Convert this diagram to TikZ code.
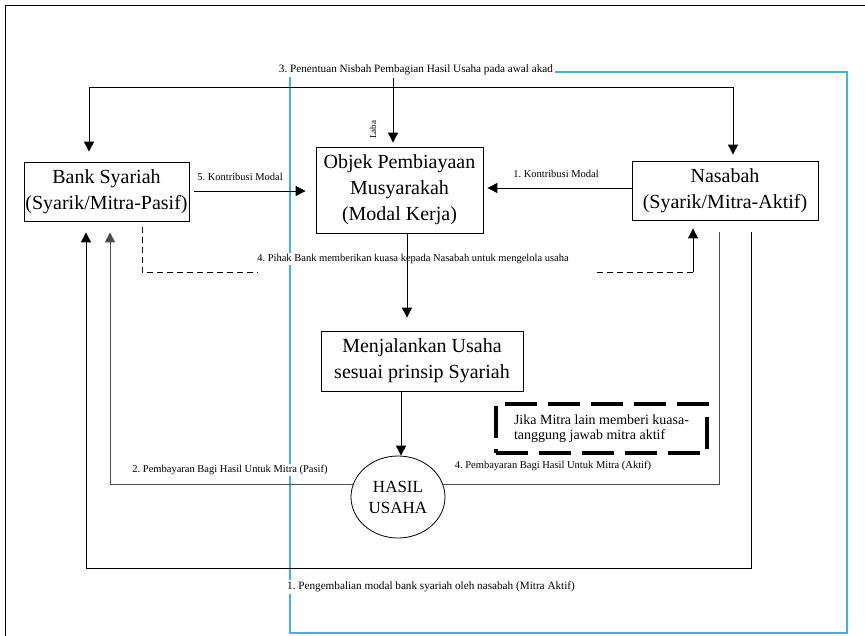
\documentclass[tikz,border=0pt]{standalone}
\usepackage{fontspec}
\setmainfont{Liberation Serif}
\usetikzlibrary{arrows.meta,shapes.geometric,calc}
\definecolor{cyanc}{RGB}{70,180,205}
\begin{document}
\begin{tikzpicture}[x=1pt,y=-1pt,
  box/.style={draw, line width=0.8pt, inner sep=0pt, align=center, font=\fontsize{20}{26}\selectfont},
  lbl/.style={font=\fontsize{10.5}{12}\selectfont, inner sep=1.5pt, fill=white},
  biglbl/.style={lbl, font=\fontsize{11.2}{13}\selectfont},
  arr/.style={-{Triangle[length=10pt,width=10pt]}, line width=0.9pt},
  dsh/.style={line width=0.9pt, dash pattern=on 6pt off 4pt},
  gln/.style={line width=1pt, black!70}
]
\useasboundingbox (0,0) rectangle (865,636);
% frame
\draw[line width=0.8pt] (5,640) -- (5,5) -- (870,5);
% cyan rectangle
\draw[cyanc, line width=1.1pt] (290,72) rectangle (847,633);

% labels
\node[biglbl] (l3) at (416,70) {3.\ Penentuan Nisbah Pembagian Hasil Usaha pada awal akad};
\node[lbl, rotate=90, font=\fontsize{9}{10}\selectfont, fill=none] (laba) at (373,130) {Laba};
\node[lbl] (l5) at (240,177) {5.\ Kontribusi Modal};
\node[lbl] (l1) at (556,174) {1.\ Kontribusi Modal};
\node[lbl] (l4) at (413,259) {4.\ Pihak Bank memberikan kuasa kepada Nasabah untuk mengelola usaha};
\node[lbl] (l2) at (230,470) {2.\ Pembayaran Bagi Hasil Untuk Mitra (Pasif)};
\node[lbl] (l4b) at (553,466) {4.\ Pembayaran Bagi Hasil Untuk Mitra (Aktif)};
\node[biglbl] (l1b) at (431,587) {1.\ Pengembalian modal bank syariah oleh nasabah (Mitra Aktif)};

% boxes
\node[box, minimum width=165pt, minimum height=59pt] (bank) at (106.5,191.5) {Bank Syariah\\(Syarik/Mitra-Pasif)};
\node[box, minimum width=167pt, minimum height=86pt] (objek) at (399.5,190) {Objek Pembiayaan\\Musyarakah\\(Modal Kerja)};
\node[box, minimum width=186pt, minimum height=59pt] (nas) at (725,190.5) {Nasabah\\(Syarik/Mitra-Aktif)};
\node[box, minimum width=202pt, minimum height=60pt] (men) at (422,361) {Menjalankan Usaha\\sesuai prinsip Syariah};
\node[ellipse, draw, line width=0.8pt, inner sep=0pt, minimum width=94pt, minimum height=82pt, align=center, font=\fontsize{17}{21}\selectfont] (hasil) at (398,497) {HASIL\\USAHA};
\node[draw, line width=3.5pt, dash pattern=on 32pt off 11pt, minimum width=211pt, minimum height=49pt, align=left, font=\fontsize{14}{15}\selectfont] (jika) at (601.5,428.5) {Jika Mitra lain memberi kuasa-\\tanggung jawab mitra aktif};

% coordinates
\coordinate (tl) at (89,87);
\coordinate (tr) at (733,87);
\coordinate (tm) at (393,78);
\coordinate (k5) at (194,191);
\coordinate (k1) at (632,188);
\coordinate (d1) at (142,272);
\coordinate (d2) at (258,272);
\coordinate (d3) at (597,272);
\coordinate (d4) at (693,272);
\coordinate (om) at (407,0);
\coordinate (mh) at (401,0);
\coordinate (p2) at (110,485);
\coordinate (q4) at (719,483);
\coordinate (r1) at (751,568);
\coordinate (r2) at (86,568);

% connectors
\draw[{Triangle[length=10pt,width=10pt]}-{Triangle[length=10pt,width=10pt]}, line width=0.9pt, shorten <=10pt, shorten >=6pt]
  (bank.north -| tl) -- (tl) -- (tr) -- (nas.north -| tr);
\draw[arr, shorten >=4pt] (tm) -- (objek.north -| tm);
\draw[arr, shorten <=5pt, shorten >=10pt] (bank.east |- k5) -- (objek.west |- k5);
\draw[arr, shorten >=4pt] (nas.west |- k1) -- (objek.east |- k1);
\draw[dsh, shorten <=6pt] (bank.south -| d1) -- (d1) -- (d2);
\draw[dsh] (d3) -- (d4);
\draw[arr, shorten >=8pt] (d4) -- (nas.south -| d4);
\draw[arr, shorten >=13pt] (objek.south -| om) -- (men.north -| om);
\draw[arr] (men.south -| mh) -- (hasil.north -| mh);
\draw[gln, -{Triangle[length=10pt,width=10pt]}, shorten >=11pt] (hasil.165) -- (hasil.165 -| p2) -- (bank.south -| p2);
\draw[gln, shorten >=12pt] (hasil.15) -- (hasil.15 -| q4) -- (nas.south -| q4);
\draw[arr, shorten <=12pt, shorten >=11pt] (nas.south -| r1) -- (r1) -- (r2) -- (bank.south -| r2);
\end{tikzpicture}
\end{document}
